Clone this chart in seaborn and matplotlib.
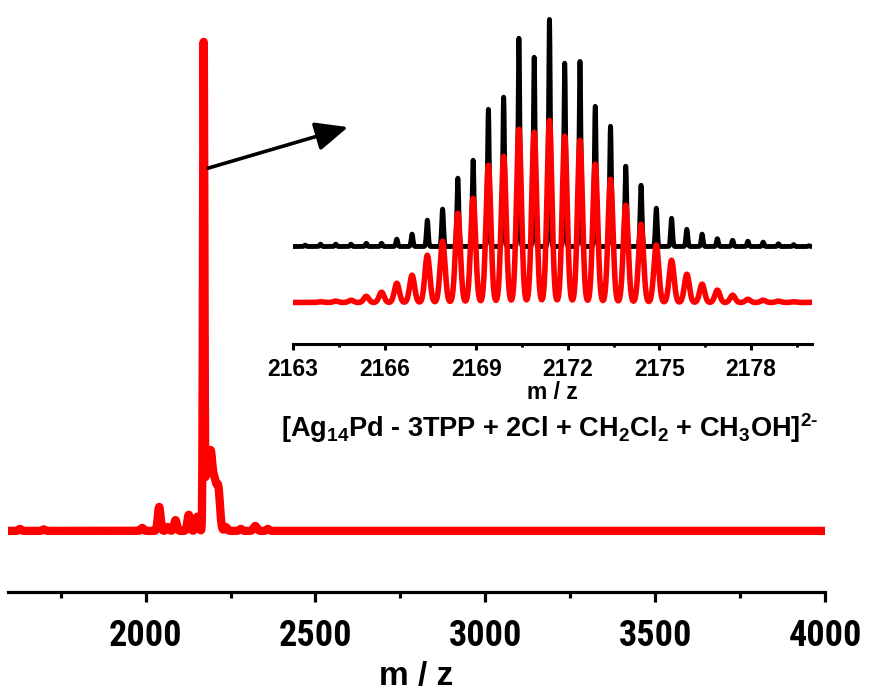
import numpy as np
import pandas as pd
import matplotlib
matplotlib.use('Agg')
import matplotlib.pyplot as plt
import seaborn as sns
from matplotlib import font_manager
from matplotlib.ticker import MultipleLocator

# full ESI-MS spectrum, peak list (relative intensity)
full_mz = [1630, 1700, 1990, 2040, 2065, 2088, 2127, 2152, 2171, 2181, 2192, 2203, 2214, 2236, 2280, 2323, 2360]
full_int = [0.4, 0.3, 0.6, 4.9, 0.8, 2.2, 3.3, 2.9, 98.2, 13.5, 14.5, 9.0, 8.5, 0.8, 0.4, 1.0, 0.4]
full_sigma = [4, 4, 4, 4, 4, 4, 4, 4, 2, 5, 5, 5, 5, 4, 4, 5, 4]

# isotope pattern of the 2- ion (inset)
iso_mz = [2163.4, 2163.9, 2164.4, 2164.9, 2165.4, 2165.9, 2166.4, 2166.9, 2167.4, 2167.9,
          2168.4, 2168.9, 2169.4, 2169.9, 2170.4, 2170.9, 2171.4, 2171.9, 2172.4, 2172.9,
          2173.4, 2173.9, 2174.4, 2174.9, 2175.4, 2175.9, 2176.4, 2176.9, 2177.4, 2177.9,
          2178.4, 2178.9, 2179.4, 2179.9]
sim_int = [0.6, 1.0, 1.0, 1.0, 1.4, 1.4, 3.2, 5.4, 11.5, 16.3,
           29.8, 37.6, 59.8, 65.1, 90.8, 82.5, 99.0, 79.9, 80.7, 61.1,
           52.4, 35.0, 26.7, 16.7, 12.3, 7.5, 5.4, 3.4, 2.7, 2.3,
           1.9, 1.2, 0.8, 0.3]
exp_int = [0.0, 0.3, 0.6, 1.0, 2.7, 4.5, 8.4, 11.9, 20.6, 26.7,
           38.9, 45.4, 59.8, 63.7, 75.5, 74.2, 79.4, 72.5, 70.7, 60.3,
           53.7, 42.4, 34.1, 25.0, 18.4, 12.3, 8.0, 5.4, 3.2, 1.4,
           1.0, 0.6, 0.3, 0.1]

formula = r'[Ag$_{14}$Pd - 3TPP + 2Cl + CH$_2$Cl$_2$ + CH$_3$OH]$^{2\text{-}}$'

sim_offset = 24.4
sim_sigma = 0.03
exp_sigma = 0.08


def profile(grid, centres, heights, sigmas):
    out = np.zeros_like(grid)
    for c, h, s in zip(centres, heights, sigmas):
        out += h * np.exp(-0.5 * ((grid - c) / s) ** 2)
    return out


sns.set_theme(style='white')
names = {f.name for f in font_manager.fontManager.ttflist}
narrow = 'Liberation Sans'
for cand in ['Liberation Sans Narrow', 'Roboto Condensed', 'Open Sans Condensed']:
    if cand in names:
        narrow = cand
        break
plt.rcParams['font.family'] = ['Liberation Sans', 'DejaVu Sans']
plt.rcParams['text.color'] = 'black'
plt.rcParams['axes.labelcolor'] = 'black'
plt.rcParams['xtick.color'] = 'black'
plt.rcParams['mathtext.fontset'] = 'custom'
plt.rcParams['mathtext.rm'] = 'Liberation Sans:bold'
plt.rcParams['mathtext.bf'] = 'Liberation Sans:bold'
plt.rcParams['mathtext.default'] = 'bf'

fig = plt.figure(figsize=(8.74, 6.97), dpi=100)

# main spectrum
ax = fig.add_axes([8 / 874, 105 / 697, 817 / 874, 592 / 697])
grid = np.arange(1595, 4000.5, 0.5)
df_full = pd.DataFrame({'mz': grid, 'intensity': profile(grid, full_mz, full_int, full_sigma)})
sns.lineplot(data=df_full, x='mz', y='intensity', color='#ff0000', lw=6,
             estimator=None, sort=False, ax=ax)
ax.set_xlim(1595, 4000)
ax.set_ylim(-12.5, 108.6)
for s in ['left', 'right', 'top']:
    ax.spines[s].set_visible(False)
ax.spines['bottom'].set_linewidth(2.3)
ax.spines['bottom'].set_color('black')
ax.set_yticks([])
ax.set_ylabel('')
ax.xaxis.set_major_locator(MultipleLocator(500))
ax.xaxis.set_minor_locator(MultipleLocator(250))
ax.tick_params(axis='x', which='major', direction='out', length=7, width=2.3,
               color='black', bottom=True, pad=12)
ax.tick_params(axis='x', which='minor', direction='out', length=4, width=2.3,
               color='black', bottom=True)
main_size = 26 if narrow != 'Liberation Sans' else 22
for lab in ax.get_xticklabels():
    lab.set_fontfamily([narrow, 'Liberation Sans'])
    lab.set_fontweight('bold')
    lab.set_fontsize(main_size)
    lab.set_color('black')
ax.set_xlabel('m / z', fontsize=24, fontweight='bold', family=['Liberation Sans'],
              labelpad=5, color='black')
ax.set_facecolor('none')
ax.annotate('', xy=(2596, 82.6), xytext=(2184, 74.2),
            arrowprops=dict(arrowstyle='-|>,head_length=0.9,head_width=0.4', lw=2.6,
                            color='black', mutation_scale=22, shrinkA=0, shrinkB=0))

# inset: simulated (black) vs experimental (red) isotope pattern
axi = fig.add_axes([293 / 874, (697 - 344) / 697, 519 / 874, 334 / 697])
g2 = np.arange(2163.0, 2180.001, 0.005)
df_sim = pd.DataFrame({'mz': g2,
                       'intensity': sim_offset + profile(g2, iso_mz, sim_int, [sim_sigma] * len(iso_mz))})
df_exp = pd.DataFrame({'mz': g2,
                       'intensity': profile(g2, iso_mz, exp_int, [exp_sigma] * len(iso_mz))})
sns.lineplot(data=df_sim, x='mz', y='intensity', color='black', lw=3.5,
             estimator=None, sort=False, ax=axi)
sns.lineplot(data=df_exp, x='mz', y='intensity', color='#ff0000', lw=4.0,
             estimator=None, sort=False, ax=axi)
axi.set_xlim(2163, 2180)
axi.set_ylim(-18.1, 127.5)
for s in ['left', 'right', 'top']:
    axi.spines[s].set_visible(False)
axi.spines['bottom'].set_linewidth(2.2)
axi.spines['bottom'].set_color('black')
axi.set_yticks([])
axi.set_ylabel('')
axi.set_facecolor('none')
axi.xaxis.set_major_locator(MultipleLocator(3))
axi.xaxis.set_minor_locator(MultipleLocator(1.5))
axi.tick_params(axis='x', which='major', direction='out', length=4, width=2.2,
                color='black', bottom=True, pad=6, labelsize=16.5)
axi.tick_params(axis='x', which='minor', direction='out', length=2.5, width=2.2,
                color='black', bottom=True)
for lab in axi.get_xticklabels():
    lab.set_fontweight('bold')
    lab.set_color('black')
axi.set_xlabel('m / z', fontsize=16.5, fontweight='bold', labelpad=0, color='black')

fig.text(550 / 874, 1 - 428 / 697, formula, ha='center', va='center',
         fontsize=19.5, fontweight='bold', color='black')

fig.savefig('out.png', dpi=100, facecolor='white')
